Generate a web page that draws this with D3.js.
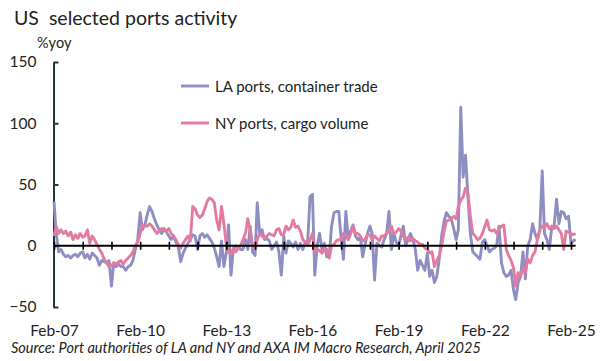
<!DOCTYPE html>
<html>
<head>
<meta charset="utf-8">
<script src="https://cdn.jsdelivr.net/npm/d3@7"></script>
<style>
  html, body { margin: 0; padding: 0; background: #fff; }
  svg { display: block; }
  text { font-family: Lato, "Open Sans", sans-serif; fill: #222; }
</style>
</head>
<body>
<svg id="chart" width="600" height="361"></svg>
<script>
// ---- data ----
const startMonth = [2007, 1]; // Feb 2007 (year, zero-based month)
const laPorts = [36,10,-5,-3,-7,-9,-8,-10,-8,-7,-9,-6,-5,-10,-7,-11,-6,-8,-10,-16,
  -12,-13,-14,-12,-33,-14,-17,-15,-17,-17,-20,-17,-16,-12,-3,5,27,13,17,25,
  32,28,22,17,13,10,14,11,8,5,8,3,-1,-13,-6,-2,2,5,9,8,
  -3,8,10,7,9,6,3,-2,-9,-17,4,-17,-5,17,-24,-3,0,-1,-3,-3,
  5,-3,16,-5,-8,35,10,13,5,6,4,-3,0,3,-5,-24,8,-6,4,2,
  -1,3,-3,2,-3,3,2,40,42,-24,0,10,-3,2,-9,-9,16,27,28,28,
  5,-11,28,5,12,17,8,5,7,-9,1,10,16,10,-28,2,0,-1,5,10,
  28,-3,10,3,0,8,16,0,5,10,5,-3,-20,-12,-16,-20,-6,-25,-20,-30,
  -25,-11,8,20,27,24,22,14,5,13,113,56,74,40,10,-5,-7,-9,-11,3,
  5,0,-5,-3,-2,0,16,-14,-22,-25,-24,-20,-36,-44,-30,-25,-5,-27,0,5,
  18,10,5,13,61,10,5,-3,15,16,38,18,28,27,22,24,2,4,5];
const nyPorts = [8,16,10,13,10,12,8,11,5,9,6,10,7,8,13,2,8,5,1,-3,
  -6,-11,-14,-17,-16,-14,-15,-13,-12,-15,-12,-10,-8,-5,0,3,10,17,16,16,
  18,16,13,10,12,14,13,12,14,10,8,5,1,-2,2,5,8,4,32,30,
  25,23,25,30,36,39,38,35,21,13,32,18,0,-5,-7,-2,-5,-2,0,5,
  10,22,12,0,-2,5,10,8,6,8,10,9,8,13,14,9,9,16,13,15,
  21,15,16,12,5,3,0,5,10,-5,-3,-4,-6,-3,-3,-10,0,1,4,5,
  5,10,8,5,10,16,10,10,8,4,5,9,9,5,8,6,4,8,8,10,
  12,16,10,11,14,12,8,5,7,4,6,4,3,1,1,-2,-3,-6,-5,-17,
  -12,-8,0,12,20,21,22,24,22,32,37,40,47,43,24,10,8,5,6,10,
  16,21,13,12,13,10,14,16,17,-3,-8,-12,-18,-33,-22,-25,-18,-22,-11,-14,
  -8,-5,5,13,16,15,18,14,16,14,16,13,10,-3,12,11,10,9,10];
const seriesNames = ["LA ports, container trade", "NY ports, cargo volume"];
const yTicks = [-50, 0, 50, 100, 150];
const xLabelYears = [2007, 2010, 2013, 2016, 2019, 2022, 2025];
const titleText = "US  selected ports activity";
const unitText = "%yoy";
const sourceText = "Source: Port authorities of LA and NY and AXA IM Macro Research, April 2025";

// ---- setup ----
const colors = ["#8f8ec2", "#e27b9f"];
const svg = d3.select("#chart");
const months = laPorts.map((_, i) => new Date(startMonth[0], startMonth[1] + i, 1));

const x = d3.scaleTime()
  .domain([new Date(2007, 1, 1), new Date(2025, 1, 1)])
  .range([54, 571]);
const y = d3.scaleLinear().domain([-50, 150]).range([307, 62]);

// title & unit
svg.append("text").attr("x", 14).attr("y", 25).attr("font-size", 19.5)
  .style("white-space", "pre").attr("xml:space", "preserve").text(titleText);
svg.append("text").attr("x", 37).attr("y", 48).attr("font-size", 14.5).text(unitText);

// y axis
const yAxis = d3.axisLeft(y).tickValues(yTicks).tickSizeInner(-5).tickSizeOuter(0).tickPadding(17);
const gy = svg.append("g").attr("transform", "translate(53.5,0)").call(yAxis);
gy.selectAll(".domain").attr("stroke", "#1e3a3a").attr("stroke-width", 2);
gy.selectAll(".tick line").attr("stroke", "#1e3a3a").attr("stroke-width", 2);
gy.selectAll(".tick text").attr("font-size", 15.5).attr("fill", "#222").attr("font-family", "Lato");

// lines
const line = d3.line().x((d, i) => x(months[i])).y(d => y(d)).curve(d3.curveLinear);
[laPorts, nyPorts].forEach((s, k) => {
  svg.append("path").datum(s)
    .attr("fill", "none").attr("stroke", colors[k]).attr("stroke-width", 2.9)
    .attr("stroke-linejoin", "round").attr("d", line);
});

// zero line with yearly ticks
const yearTicks = d3.range(2007, 2026).map(yr => new Date(yr, 1, 1));
const xAxisZero = d3.axisBottom(x).tickValues(yearTicks).tickSizeInner(4).tickSizeOuter(0).tickFormat("");
const gz = svg.append("g").attr("transform", `translate(0,${y(0)})`).call(xAxisZero);
gz.select(".domain").attr("d", `M${x(months[0])},0H${x(months[months.length - 1])}`)
  .attr("stroke", "#000").attr("stroke-width", 2);
gz.selectAll(".tick line").attr("y1", -4).attr("y2", 4).attr("stroke", "#000").attr("stroke-width", 1.6);

// x labels
const xAxisLabels = d3.axisBottom(x)
  .tickValues(xLabelYears.map(yr => new Date(yr, 1, 1)))
  .tickSize(0).tickPadding(0)
  .tickFormat(d3.timeFormat("%b-%y"));
const gx = svg.append("g").attr("transform", "translate(0,325)").call(xAxisLabels);
gx.select(".domain").remove();
gx.selectAll(".tick text").attr("font-size", 15.5).attr("fill", "#222").attr("font-family", "Lato");

// legend
seriesNames.forEach((n, k) => {
  const ly = k === 0 ? 86 : 123;
  svg.append("line").attr("x1", 181).attr("x2", 209).attr("y1", ly).attr("y2", ly)
    .attr("stroke", colors[k]).attr("stroke-width", 2.9);
  svg.append("text").attr("x", 215).attr("y", ly + 5.5).attr("font-size", 15).text(n);
});

// source
svg.append("text").attr("x", 11).attr("y", 353).attr("font-size", 14.5)
  .attr("font-style", "italic").text(sourceText);
</script>
</body>
</html>
